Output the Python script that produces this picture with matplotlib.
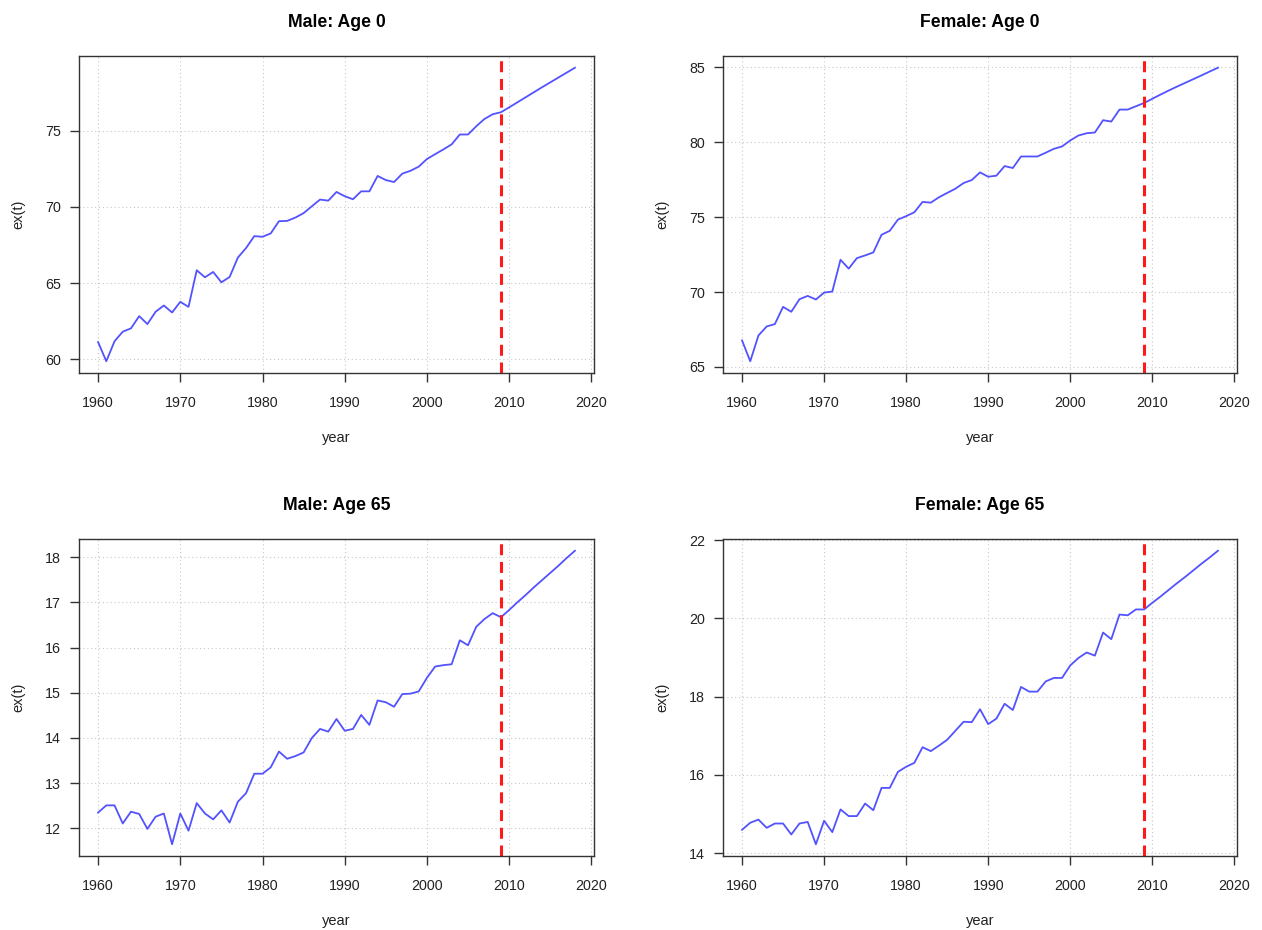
import matplotlib
matplotlib.use('Agg')
import matplotlib.pyplot as plt

plt.rcParams['font.family'] = ['Liberation Sans', 'DejaVu Sans']

years = list(range(1960, 2019))
jump_off_year = 2009

titles = ['Male: Age 0', 'Female: Age 0', 'Male: Age 65', 'Female: Age 65']
x_ticks = [1960, 1970, 1980, 1990, 2000, 2010, 2020]
y_ticks = [[60, 65, 70, 75],
           [65, 70, 75, 80, 85],
           [12, 13, 14, 15, 16, 17, 18],
           [14, 16, 18, 20, 22]]

# observed 1960-2009 followed by forecast 2010-2018
male_age0 = [
    61.13, 59.87, 61.18, 61.81, 62.03, 62.83, 62.31, 63.12, 63.53, 63.07,
    63.77, 63.44, 65.84, 65.38, 65.73, 65.05, 65.40, 66.67, 67.30, 68.08,
    68.04, 68.26, 69.06, 69.08, 69.30, 69.59, 70.04, 70.48, 70.41, 70.98,
    70.70, 70.50, 71.02, 71.02, 72.03, 71.76, 71.63, 72.18, 72.37, 72.64,
    73.14, 73.46, 73.77, 74.10, 74.75, 74.75, 75.29, 75.77, 76.08, 76.21,
    76.53, 76.86, 77.19, 77.52, 77.85, 78.17, 78.49, 78.81, 79.13]

female_age0 = [
    66.77, 65.38, 67.10, 67.70, 67.86, 69.01, 68.68, 69.52, 69.74, 69.50,
    69.96, 70.03, 72.15, 71.56, 72.26, 72.44, 72.64, 73.82, 74.08, 74.83,
    75.06, 75.32, 76.01, 75.96, 76.32, 76.61, 76.89, 77.27, 77.47, 77.98,
    77.69, 77.76, 78.40, 78.27, 79.04, 79.04, 79.04, 79.29, 79.55, 79.71,
    80.11, 80.44, 80.59, 80.64, 81.46, 81.37, 82.17, 82.17, 82.39, 82.61,
    82.89, 83.17, 83.44, 83.70, 83.95, 84.20, 84.45, 84.71, 84.96]

male_age65 = [
    12.35, 12.51, 12.51, 12.11, 12.37, 12.32, 11.99, 12.26, 12.33, 11.65,
    12.33, 11.95, 12.56, 12.33, 12.20, 12.40, 12.13, 12.59, 12.78, 13.21,
    13.21, 13.35, 13.70, 13.54, 13.60, 13.68, 14.00, 14.20, 14.14, 14.42,
    14.16, 14.20, 14.51, 14.29, 14.83, 14.79, 14.69, 14.97, 14.98, 15.03,
    15.33, 15.58, 15.61, 15.63, 16.16, 16.05, 16.46, 16.63, 16.76, 16.67,
    16.83, 17.00, 17.16, 17.33, 17.49, 17.65, 17.81, 17.98, 18.14]

female_age65 = [
    14.60, 14.78, 14.86, 14.65, 14.76, 14.76, 14.48, 14.76, 14.80, 14.23,
    14.83, 14.54, 15.12, 14.95, 14.95, 15.27, 15.10, 15.67, 15.67, 16.08,
    16.21, 16.31, 16.71, 16.61, 16.75, 16.90, 17.13, 17.36, 17.35, 17.68,
    17.30, 17.44, 17.82, 17.66, 18.25, 18.13, 18.13, 18.39, 18.48, 18.48,
    18.80, 18.99, 19.13, 19.05, 19.64, 19.47, 20.10, 20.08, 20.23, 20.23,
    20.40, 20.56, 20.73, 20.90, 21.06, 21.23, 21.40, 21.56, 21.73]

series = [male_age0, female_age0, male_age65, female_age65]

fig = plt.figure(figsize=(12.62, 9.30), dpi=100)
W, H = 1262.0, 930.0
# panel boxes in pixels: left, top, right, bottom
boxes = [(79, 56, 594, 373), (723, 56, 1237, 373),
         (79, 539, 594, 856), (723, 539, 1237, 856)]

for box, title, ex, yt in zip(boxes, titles, series, y_ticks):
  l, t, r, b = box
  ax = fig.add_axes([l / W, 1 - b / H, (r - l) / W, (b - t) / H])
  ax.plot(years, ex, color='#5252ff', linewidth=1.3)
  ax.axvline(jump_off_year, color='#ff1a1a', linewidth=2.2,
             linestyle=(0, (3.6, 2.2)))
  ax.margins(x=0.04, y=0.04)
  ax.set_xticks(x_ticks)
  ax.set_yticks(yt)
  ax.grid(True, linestyle=(0, (1, 2.5)), color='#c8c8c8', linewidth=0.8)
  ax.set_axisbelow(True)
  for s in ax.spines.values():
    s.set_color('#333333')
    s.set_linewidth(1.0)
  ax.tick_params(direction='out', length=6.5, width=1.0, color='#333333',
                 labelsize=10.3, labelcolor='#222222')
  ax.tick_params(axis='x', pad=10)
  ax.tick_params(axis='y', pad=6.5)
  ax.set_title(title, fontsize=12.7, fontweight='bold', pad=21)
  ax.set_xlabel('year', fontsize=10.5, labelpad=15.5, color='#222222')
  ax.set_ylabel('ex(t)', fontsize=10.5, labelpad=14, color='#222222')

fig.savefig('out.png', dpi=100)
